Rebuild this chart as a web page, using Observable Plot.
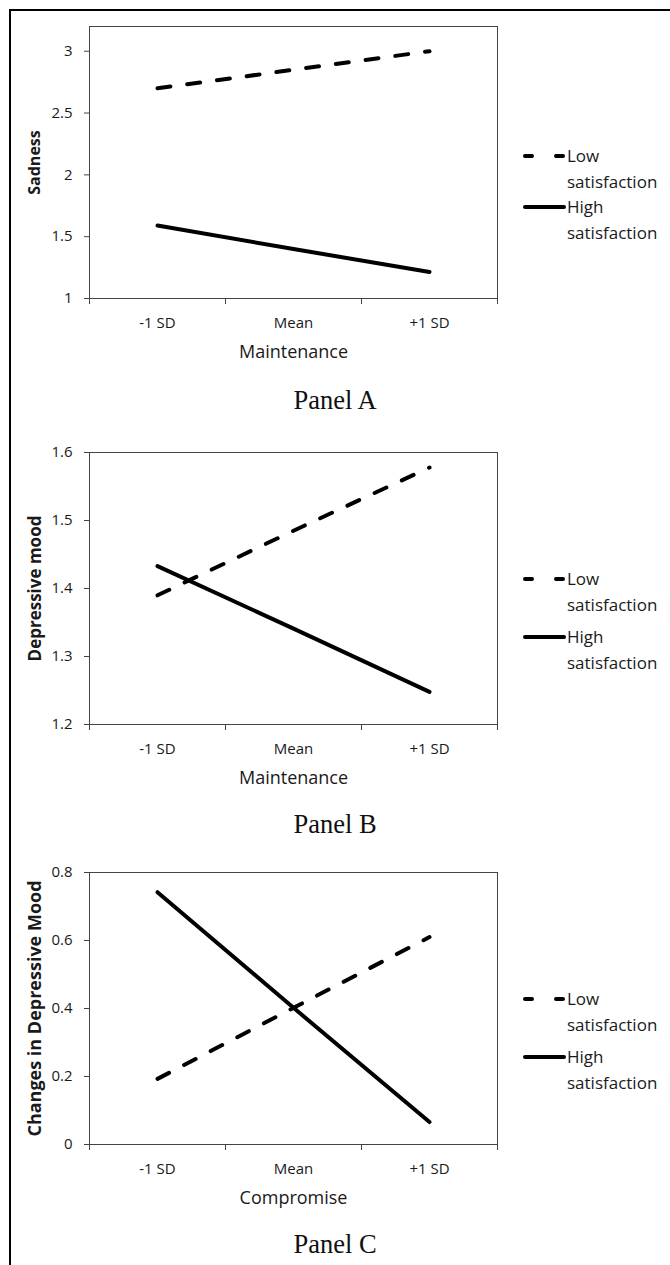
<!DOCTYPE html>
<html>
<head>
<meta charset="utf-8">
<script src="https://cdn.jsdelivr.net/npm/d3@7"></script>
<script src="https://cdn.jsdelivr.net/npm/@observablehq/plot@0.6"></script>
<style>
  html, body { margin: 0; padding: 0; background: #fff; }
  #page { position: relative; width: 670px; height: 1265px; overflow: hidden; background: #fff;
          font-family: "Open Sans", sans-serif; color: #1a1a1a; }
  .panel { position: absolute; left: 0; width: 670px; }
  .panel svg { display: block; }
  .border { position: absolute; left: 9px; top: 9px; width: 800px; height: 1400px;
            border-left: 2.5px solid #000; border-top: 2px solid #000; pointer-events: none; }
  .legend { position: absolute; left: 523px; font-size: 17px; line-height: 25.5px; white-space: nowrap; }
  .item { position: relative; }
  .item svg { position: absolute; left: 0; top: 0; }
  .item .txt { padding-left: 44px; }
  .caption { position: absolute; left: 235px; width: 200px; text-align: center;
             font-family: "Liberation Serif", "Times New Roman", serif; font-size: 26.5px; line-height: 26px; color: #111; }
</style>
</head>
<body>
<div id="page"></div>
<script>
// ---- data ----
const levels = ["-1 SD", "Mean", "+1 SD"];
const sdUnits = [-1, 0, 1];
const seriesNames = ["Low satisfaction", "High satisfaction"];

// Panel A: Sadness by Maintenance
const sadnessLow = [2.70, 2.85, 3.00];
const sadnessHigh = [1.59, 1.40, 1.215];
const sadnessTicks = [1, 1.5, 2, 2.5, 3];

// Panel B: Depressive mood by Maintenance
const moodLow = [1.39, 1.485, 1.578];
const moodHigh = [1.433, 1.341, 1.248];
const moodTicks = [1.2, 1.3, 1.4, 1.5, 1.6];

// Panel C: Changes in depressive mood by Compromise
const changeLow = [0.193, 0.402, 0.61];
const changeHigh = [0.742, 0.402, 0.066];
const changeTicks = [0, 0.2, 0.4, 0.6, 0.8];

const panelTitles = ["Panel A", "Panel B", "Panel C"];

const panels = [
  {low: sadnessLow, high: sadnessHigh, yDomain: [1, 3.2], yTicks: sadnessTicks, yLabel: "Sadness", yLabelSize: 16, xLabel: "Maintenance", fmt: d3.format("")},
  {low: moodLow, high: moodHigh, yDomain: [1.2, 1.6], yTicks: moodTicks, yLabel: "Depressive mood", yLabelSize: 17, xLabel: "Maintenance", fmt: d3.format(".1f")},
  {low: changeLow, high: changeHigh, yDomain: [0, 0.8], yTicks: changeTicks, yLabel: "Changes in Depressive Mood", yLabelSize: 18, xLabel: "Compromise", fmt: (d) => d === 0 ? "0" : d3.format(".1f")(d)}
];

// ---- layout (page positions) ----
const panelTop = [0, 426, 846];
const legendTop = [143.25, 566.25, 986.25];
const legendGap = [0, 7, 7];
const captionTop = [387, 811, 1231];

function makePlot(p) {
  const rows = [];
  levels.forEach((lv, i) => {
    rows.push({sd: sdUnits[i], level: lv, series: seriesNames[0], value: p.low[i]});
    rows.push({sd: sdUnits[i], level: lv, series: seriesNames[1], value: p.high[i]});
  });
  const lowRows = rows.filter(d => d.series === seriesNames[0]);
  const highRows = rows.filter(d => d.series === seriesNames[1]);
  return Plot.plot({
    width: 670,
    height: 368,
    marginLeft: 89,
    marginRight: 173,
    marginTop: 26,
    marginBottom: 70,
    style: {background: "transparent", fontFamily: "Open Sans, sans-serif", fontSize: "15px", color: "#1a1a1a"},
    x: {domain: [-1.5, 1.5]},
    y: {domain: p.yDomain},
    marks: [
      Plot.frame({stroke: "#444"}),
      Plot.axisY({ticks: p.yTicks, tickSize: 5, tickPadding: 12, tickFormat: p.fmt, stroke: "#444", fontSize: 15, label: null}),
      Plot.axisY({ticks: [], label: p.yLabel, labelAnchor: "center", labelArrow: "none", labelOffset: 61,
                  fontWeight: "bold", fontSize: p.yLabelSize}),
      Plot.axisX({ticks: [-1.5, -0.5, 0.5, 1.5], tickSize: 6, stroke: "#444", tickFormat: () => "", label: null}),
      Plot.axisX({ticks: sdUnits, tickSize: 0, tickPadding: 19, fontSize: 15,
                  tickFormat: (d) => levels[sdUnits.indexOf(d)], label: null}),
      Plot.axisX({ticks: [], label: p.xLabel, labelAnchor: "center", labelArrow: "none", labelOffset: 59, fontSize: 18}),
      Plot.line(lowRows, {x: "sd", y: "value", stroke: "#000", strokeWidth: 4,
                          strokeDasharray: "13,17", strokeLinecap: "round"}),
      Plot.line(highRows, {x: "sd", y: "value", stroke: "#000", strokeWidth: 4, strokeLinecap: "round"})
    ]
  });
}

function makeLegend(top, gap) {
  const lg = document.createElement("div");
  lg.className = "legend";
  lg.style.top = top + "px";
  const items = [
    {name: ["Low", "satisfaction"], dash: "7 24"},
    {name: ["High", "satisfaction"], dash: null}
  ];
  items.forEach((it, i) => {
    const d = document.createElement("div");
    d.className = "item";
    if (i > 0) d.style.marginTop = gap + "px";
    d.innerHTML =
      `<svg width="44" height="25.5"><line x1="2" x2="${it.dash ? 40 : 41}" y1="13" y2="13" stroke="#000" stroke-width="4" stroke-linecap="round" ${it.dash ? `stroke-dasharray="${it.dash}"` : ""}/></svg>` +
      `<div class="txt">${it.name[0]}<br>${it.name[1]}</div>`;
    lg.append(d);
  });
  return lg;
}

const page = document.getElementById("page");
panels.forEach((p, i) => {
  const wrap = document.createElement("div");
  wrap.className = "panel";
  wrap.style.top = panelTop[i] + "px";
  wrap.append(makePlot(p));
  page.append(wrap);
  page.append(makeLegend(legendTop[i], legendGap[i]));
  const cap = document.createElement("div");
  cap.className = "caption";
  cap.style.top = captionTop[i] + "px";
  cap.textContent = panelTitles[i];
  page.append(cap);
});
const border = document.createElement("div");
border.className = "border";
page.append(border);
</script>
</body>
</html>
